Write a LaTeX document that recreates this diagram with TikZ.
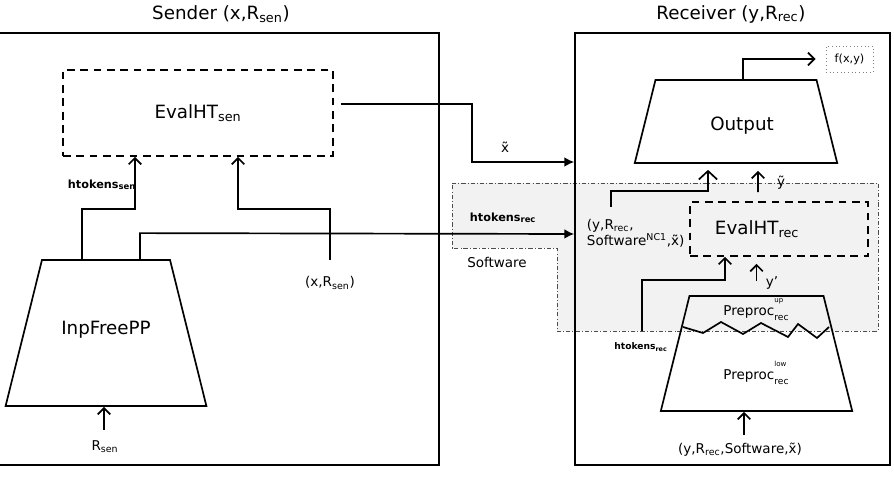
\documentclass[tikz,border=0pt]{standalone}
\usepackage{fontspec}
\setmainfont{DejaVu Sans}
\usetikzlibrary{arrows.meta, shapes.geometric}
\newcommand{\updn}[2]{\rlap{\raisebox{9pt}{\fontsize{5}{6}\selectfont #1}}\raisebox{-3.8pt}{\fontsize{6.5}{7}\selectfont #2}}
\tikzset{
  blok/.style = {rectangle, draw, line width=1.2pt, inner sep=0},
  dbox/.style = {rectangle, draw, line width=1.2pt, dash pattern=on 5.5pt off 4pt, inner sep=0},
  trap/.style = {trapezium, draw, line width=1.2pt, trapezium angle=76, inner sep=0, align=center},
  link/.style = {line width=1.2pt},
  arr/.style  = {line width=1.2pt, -{Straight Barb[length=4.5pt,width=9pt]}},
  arrB/.style = {line width=1.2pt, -{Straight Barb[length=6pt,width=13pt]}},
  arrF/.style = {line width=1.2pt, -{Latex[length=7pt,width=7pt]}},
  big/.style  = {font=\fontsize{13}{15}\selectfont},
  et/.style   = {font=\fontsize{9.6}{11.5}\selectfont},
  tok/.style  = {font=\fontsize{8}{9.6}\selectfont\bfseries},
  toks/.style = {font=\fontsize{6.5}{8}\selectfont\bfseries},
  sw/.style   = {draw=black!70, fill=black!5, line width=0.5pt, dash pattern=on 3pt off 1.5pt on 0.6pt off 1.5pt}
}

\begin{document}
\begin{tikzpicture}[x=0.025cm, y=-0.025cm]
  \useasboundingbox (0,0) rectangle (894,484);

  % ---------- Software ----------
  \draw[sw] (452,183) -- (878,183) -- (878,331) -- (557,331) -- (557,248) -- (452,248) -- cycle;
  \node[tok, anchor=west] (htr) at (465,218) {htokens\textsubscript{rec}};
  \node[et] (swt) at (497,262) {Software};

  % ---------- Sender ----------
  \node[blok, minimum width=11.05cm, minimum height=10.8cm] (sen) at (218,249) {};
  \node[big] (sent) at (221,14) {Sender (x,R\textsubscript{sen})};

  \node[dbox, big, minimum width=6.75cm, minimum height=2.15cm] (evalS) at (198,113) {EvalHT\textsubscript{sen}};
  \node[trap, big, text width=3.2cm, text height=1.875cm, text depth=1.775cm] (inp) at (106,333) {InpFreePP};

  \node[tok, anchor=west] (hts) at (63,185) {htokens\textsubscript{sen}};
  \node[et] (xr) at (330,283) {(x,R\textsubscript{sen})};
  \node[et] (rs) at (105,447) {R\textsubscript{sen}};
  \coordinate (xrtop) at (330,260);
  \coordinate (rstop) at (104,430);

  % ---------- Receiver ----------
  \node[blok, minimum width=7.875cm, minimum height=10.8cm] (rec) at (732.5,249) {};
  \node[big] (rect) at (731,14) {Receiver (y,R\textsubscript{rec})};

  \node[trap, big, text width=4.025cm, text height=1.2625cm, text depth=0.8125cm] (out) at (736,121.5) {\hspace*{0.3cm}Output};
  \node[draw=gray, dotted, line width=0.6pt, minimum width=1.175cm, minimum height=0.65cm,
        font=\fontsize{8}{9.6}\selectfont] (fxy) at (849.5,59) {f(x,y)};

  \node[dbox, minimum width=4.45cm, minimum height=1.35cm] (evalR) at (779,229) {};
  \node[big, anchor=west] (evalRt) at (710,229) {EvalHT\textsubscript{rec}};

  \node[trap, text width=3.35cm, text height=1.4375cm, text depth=1.4375cm] (prep) at (756.5,353.5) {};
  \draw[link] (683,327) -- (703,333) -- (721,322) -- (743,334) -- (761,323) -- (788,337) -- (798,324) -- (817,338) -- (829,327);
  \node[et] (prepU) at (756,310) {Preproc\updn{up}{rec}};
  \node[et] (prepL) at (756,373) {Preproc\updn{low}{rec}};

  \node[et, align=left, anchor=west] (lbl) at (582,233) {(y,R\textsubscript{rec},\\Software\textsuperscript{NC1},\~x)};
  \coordinate (lbltop) at (611,207);
  \node[toks] (htr2) at (641,347) {htokens\textsubscript{rec}};
  \coordinate (htrtop) at (642,331);
  \node[et] (yt) at (781,183) {\~y};
  \node[et] (yp) at (772,283) {y'};
  \node[et] (inr) at (740,450) {(y,R\textsubscript{rec},Software,\~x)};
  \coordinate (inrtop) at (744,435);

  % ---------- connectors ----------
  \draw[arr] ([xshift=-0.6cm]inp.north) |- ([xshift=-1.575cm,yshift=-1.3cm]evalS.south) -- ([xshift=-1.575cm]evalS.south);
  \draw[arr] (xrtop) |- ([xshift=1cm,yshift=-1.3cm]evalS.south) -- ([xshift=1cm]evalS.south);
  \draw[arr] (rstop) -- (rstop |- inp.south);

  \draw[arrF] ([xshift=0.85cm]inp.north) -- ++(0,-26) -- (rec.west |- 0,234);
  \draw[arrF] ([xshift=0.175cm,yshift=0.225cm]evalS.east) -- ++(131,0) |- (rec.west |- 0,162);
  \node[et] (xt) at (505,147) {\~x};

  \draw[arr] ([xshift=0.175cm]out.north) |- ([xshift=-0.25cm]fxy.west);
  \draw[arrB] (lbltop) |- ([xshift=-0.7cm,yshift=-0.675cm]out.south) -- ([xshift=-0.7cm,yshift=-0.15cm]out.south);
  \draw[arr, shorten <=0.225cm, shorten >=0.175cm] ([xshift=-0.525cm]evalR.north) -- ([xshift=0.55cm]out.south);
  \draw[arr] (htrtop) |- ([xshift=-1.35cm,yshift=-0.575cm]evalR.south) -- ([xshift=-1.35cm]evalR.south);
  \draw[arr, shorten <=0.35cm, shorten >=0.175cm] (prep.north) -- (prep.north |- evalR.south);
  \draw[arr] (inrtop) -- (inrtop |- prep.south);

\end{tikzpicture}
\end{document}
